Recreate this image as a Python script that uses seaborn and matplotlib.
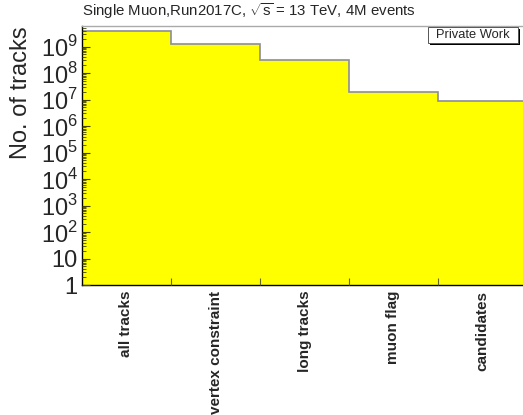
import numpy as np
import pandas as pd
import matplotlib
matplotlib.use("Agg")
import matplotlib.pyplot as plt
import seaborn as sns
from matplotlib.ticker import FixedLocator, LogLocator, NullFormatter
from matplotlib.patches import Rectangle

categories = ["all tracks", "vertex constraint", "long tracks", "muon flag", "candidates"]
counts = [3.85e9, 1.2e9, 3.1e8, 1.87e7, 8.5e6]
ytick_values = [1, 10, 1e2, 1e3, 1e4, 1e5, 1e6, 1e7, 1e8, 1e9]
ytick_labels = ["1", "10"] + [f"$10^{{{k}}}$" for k in range(2, 10)]
title = r"Single Muon,Run2017C, $\sqrt{\mathregular{s}}$ = 13 TeV, 4M events"

sns.set_theme(style="white")
plt.rcParams["font.family"] = ["Liberation Sans", "DejaVu Sans"]
plt.rcParams["mathtext.fontset"] = "custom"
plt.rcParams["mathtext.rm"] = "Liberation Sans"

df = pd.DataFrame({"cut": categories, "n": counts})

W, H = 523, 415
fig = plt.figure(figsize=(5.23, 4.15), dpi=100)
ax = fig.add_axes([82 / W, (H - 285) / H, (W - 82) / W, (285 - 26) / H])

sns.barplot(data=df, x="cut", y="n", color="#ffff00", width=1.0, linewidth=0,
            saturation=1, ax=ax, log_scale=(False, True))
edges = np.arange(len(counts) + 1) - 0.5
ax.stairs(counts, edges, baseline=None, color="#8c8c9c", linewidth=1.2)
ax.set_axisbelow(False)

ax.set_yscale("log")
ax.set_ylim(1, 10 ** 9.774)
ax.set_xlim(-0.5, -0.5 + 441 / 89)

ax.set_yticks(ytick_values)
ax.set_yticklabels(ytick_labels, fontsize=17)
ax.yaxis.set_minor_locator(LogLocator(base=10, subs=np.arange(2, 10), numticks=100))
ax.yaxis.set_minor_formatter(NullFormatter())
ax.tick_params(axis="y", which="major", direction="in", length=6, width=0.8, color="#444400", pad=3, left=True)
ax.tick_params(axis="y", which="minor", direction="in", length=3, width=0.6, color="#444400", left=True)

ax.set_xticks(range(len(categories)))
ax.set_xticklabels(categories, rotation=90, fontsize=11, fontweight="bold", va="top", ha="center")
ax.xaxis.set_minor_locator(FixedLocator(edges[1:-1]))
ax.tick_params(axis="x", which="major", length=0, pad=4)
ax.tick_params(axis="x", which="minor", direction="in", length=5, width=0.8, color="#666633", bottom=True)

ax.set_xlabel("")
ax.set_ylabel("No. of tracks", fontsize=17, loc="top", labelpad=6)

for s in ["left", "bottom"]:
    ax.spines[s].set_color("black")
    ax.spines[s].set_linewidth(1.0)
ax.spines["top"].set_color("#aaaaaa")
ax.spines["top"].set_linewidth(1.0)
ax.spines["right"].set_visible(False)

fig.text(82 / W, 1 - 11 / H, title, fontsize=10.8, ha="left", va="center")

# Private Work box with ROOT-like shadow
bx0, bx1, by0, by1 = 428, 518, 27, 43
fig.patches.append(Rectangle(((bx0 + 2) / W, 1 - (by1 + 2) / H), (bx1 - bx0) / W, (by1 - by0) / H,
                             transform=fig.transFigure, fc="black", ec="none"))
fig.patches.append(Rectangle((bx0 / W, 1 - by1 / H), (bx1 - bx0) / W, (by1 - by0) / H,
                             transform=fig.transFigure, fc="white", ec="#555555", lw=0.7))
fig.text((bx0 + bx1) / 2 / W, 1 - (by0 + by1) / 2 / H, "Private Work", fontsize=9.3,
         ha="center", va="center")

fig.savefig("out.png", dpi=100)
